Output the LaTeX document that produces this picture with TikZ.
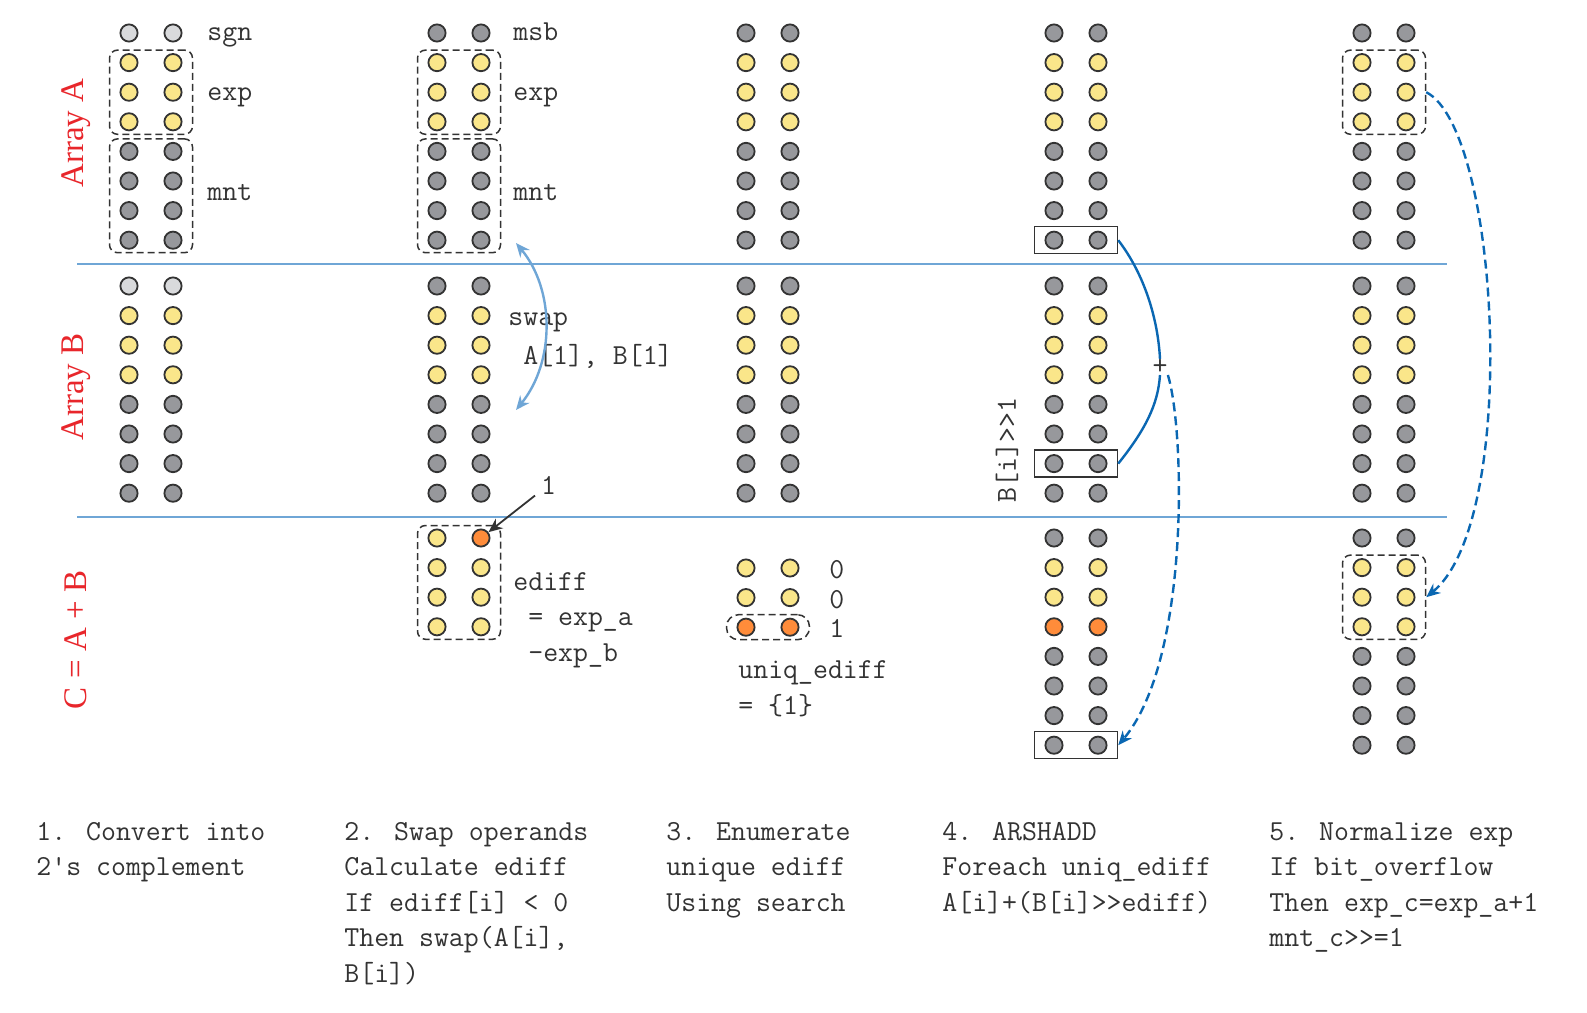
\documentclass[tikz,border=0pt]{standalone}
\usepackage{fontspec}
\newfontfamily\arrayfont{Liberation Serif}
\usetikzlibrary{arrows.meta,fit}
\definecolor{dotyel}{HTML}{FAE68A}
\definecolor{dotgray}{HTML}{97989C}
\definecolor{dotlgt}{HTML}{D9DADC}
\definecolor{dotorg}{HTML}{FF8C3A}
\definecolor{dotline}{HTML}{333333}
\definecolor{sepblue}{HTML}{6FA6D6}
\definecolor{arrblue}{HTML}{0A67B2}
\definecolor{labred}{HTML}{E8262B}
\definecolor{txt}{HTML}{333333}
\begin{document}
\begin{tikzpicture}[x=0.5pt,y=-0.5pt,
    dot/.style={circle,draw=dotline,line width=0.9pt,minimum size=8.6pt,inner sep=0pt},
    fl/.style={fill=dotlgt}, fy/.style={fill=dotyel}, fg/.style={fill=dotgray}, fo/.style={fill=dotorg},
    code/.style={font=\ttfamily\fontsize{14.5}{17.75}\selectfont,text=txt,inner sep=0pt,anchor=base west,align=left},
    arrname/.style={font=\arrayfont\fontsize{16.5}{18}\selectfont,text=labred,rotate=90,inner sep=0pt},
    dbox/.style={draw=dotline,dash pattern=on 3.5pt off 2pt,line width=0.75pt,rounded corners=4pt,inner xsep=5pt,inner ysep=1.5pt},
    pbox/.style={dbox,rounded corners=6pt},
    sbox/.style={draw=dotline,line width=0.75pt,inner xsep=5pt,inner ysep=2pt},
    sepline/.style={sepblue,line width=0.9pt},
    swaparrow/.style={sepblue,line width=1.2pt,{Stealth[length=7pt,width=6pt]}-{Stealth[length=7pt,width=6pt]}},
    onearrow/.style={dotline,line width=0.9pt,-{Stealth[length=7pt,width=6pt]}},
    blink/.style={arrblue,line width=1.2pt},
    blinkd/.style={blink,dash pattern=on 4.5pt off 2.5pt,-{Stealth[length=7pt,width=6pt]}}]
    \useasboundingbox (0,0) rectangle (1587,1013);
    \draw [sepline] (77,264) -- (1447,264);
    \draw [sepline] (77,517) -- (1447,517);
    \node [arrname] (lblA) at (76,133) {Array A};
    \node [arrname] (lblB) at (76,387) {Array B};
    \node [arrname] (lblC) at (76,640) {C = A + B};
    \foreach \col/\arr/\xx/\yy/\fills in {
        1/A/129/33/{l/l,y/y,y/y,y/y,g/g,g/g,g/g,g/g},
        1/B/129/286/{l/l,y/y,y/y,y/y,g/g,g/g,g/g,g/g},
        2/A/437/33/{g/g,y/y,y/y,y/y,g/g,g/g,g/g,g/g},
        2/B/437/286/{g/g,y/y,y/y,y/y,g/g,g/g,g/g,g/g},
        2/C/437/538/{y/o,y/y,y/y,y/y},
        3/A/746/33/{g/g,y/y,y/y,y/y,g/g,g/g,g/g,g/g},
        3/B/746/286/{g/g,y/y,y/y,y/y,g/g,g/g,g/g,g/g},
        3/C/746/568/{y/y,y/y,o/o},
        4/A/1054/33/{g/g,y/y,y/y,y/y,g/g,g/g,g/g,g/g},
        4/B/1054/286/{g/g,y/y,y/y,y/y,g/g,g/g,g/g,g/g},
        4/C/1054/538/{g/g,y/y,y/y,o/o,g/g,g/g,g/g,g/g},
        5/A/1362/33/{g/g,y/y,y/y,y/y,g/g,g/g,g/g,g/g},
        5/B/1362/286/{g/g,y/y,y/y,y/y,g/g,g/g,g/g,g/g},
        5/C/1362/538/{g/g,y/y,y/y,y/y,g/g,g/g,g/g,g/g}}
      \foreach \fl/\fr [count=\row from 0] in \fills {
        \node [dot,f\fl] (d\col\arr\row L) at (\xx,{\yy+\row*29.6}) {};
        \node [dot,f\fr] (d\col\arr\row R) at ({\xx+44},{\yy+\row*29.6}) {};
      }
    \node [dbox,fit=(d1A1L)(d1A3R)] (b1exp) {};
    \node [dbox,fit=(d1A4L)(d1A7R)] (b1mnt) {};
    \node [dbox,fit=(d2A1L)(d2A3R)] (b2exp) {};
    \node [dbox,fit=(d2A4L)(d2A7R)] (b2mnt) {};
    \node [dbox,fit=(d2C0L)(d2C3R)] (b2diff) {};
    \node [pbox,fit=(d3C2L)(d3C2R)] (b3uniq) {};
    \node [sbox,fit=(d4A7L)(d4A7R)] (r4A) {};
    \node [sbox,fit=(d4B6L)(d4B6R)] (r4B) {};
    \node [sbox,fit=(d4C7L)(d4C7R)] (r4C) {};
    \node [dbox,fit=(d5A1L)(d5A3R)] (b5A) {};
    \node [dbox,fit=(d5C1L)(d5C3R)] (b5C) {};
    \node [code] (sgn) at (207,40) {sgn};
    \node [code] (exp1) at (207,100) {exp};
    \node [code] (mnt1) at (207,200) {mnt};
    \node [code] (msb) at (513,40) {msb};
    \node [code] (exp2) at (513,100) {exp};
    \node [code] (mnt2) at (513,200) {mnt};
    \node [code] (swap) at (508,364) {swap\\[1.75pt]\ A[1], B[1]};
    \node [code,outer sep=3pt] (one) at (535,494) {1};
    \node [code] (ediff) at (513,661) {ediff\\\ = exp\_a\\\ -exp\_b};
    \node [code] (z0) at (829,578) {0};
    \node [code] (z1) at (829,608) {0};
    \node [code] (z2) at (829,637) {1};
    \node [code] (uniq) at (738,714) {uniq\_ediff\\= \{1\}};
    \node [code,rotate=90,anchor=center] (shift) at (1007,450) {B[i]>>1};
    \node [code,anchor=center] (plus) at (1160,367) {+};
    \node [code] (step1) at (36,875.5) {1. Convert into\\2's complement};
    \node [code] (step2) at (344,982) {2. Swap operands\\Calculate ediff\\If ediff[i] < 0\\Then swap(A[i],\\B[i])};
    \node [code] (step3) at (666,911) {3. Enumerate\\unique ediff\\Using search};
    \node [code] (step4) at (942,911) {4. ARSHADD\\Foreach uniq\_ediff\\A[i]+(B[i]>>ediff)};
    \node [code] (step5) at (1269,946.5) {5. Normalize exp\\If bit\_overflow\\Then exp\_c=exp\_a+1\\mnt\_c>>=1};
    \coordinate (swA) at (516,243);
    \coordinate (swB) at (516,410);
    \draw [swaparrow] (swA) .. controls (555,290) and (555,362) .. (swB);
    \draw [onearrow] (one) -- (d2C0R);
    \draw [blink] (r4A.east) .. controls (1145,275) and (1158,320) .. (plus.north);
    \draw [blink] (r4B.east) .. controls (1145,430) and (1158,405) .. (plus.south);
    \draw [blinkd] (plus.south east) .. controls (1185,430) and (1190,660) .. (r4C.east);
    \draw [blinkd] (b5A.east) .. controls (1500,130) and (1520,520) .. (b5C.east);
\end{tikzpicture}
\end{document}
